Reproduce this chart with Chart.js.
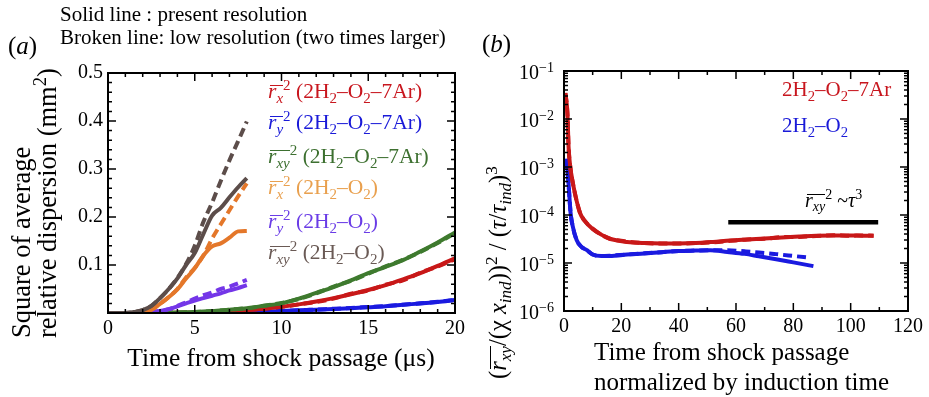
<!DOCTYPE html>
<html>
<head>
<meta charset="utf-8">
<script src="https://cdn.jsdelivr.net/npm/chart.js@4.4.1/dist/chart.umd.min.js"></script>
<style>
  html, body { margin: 0; padding: 0; background: #fff; }
  #fig { position: relative; width: 929px; height: 397px; overflow: hidden;
         font-family: "Liberation Serif", "Times New Roman", serif; color: #000; }
  #fig canvas { position: absolute; top: 0; }
  .abs { position: absolute; white-space: nowrap; }
  sub { font-size: 0.7em; vertical-align: -0.32em; line-height: 0; }
  sup { font-size: 0.7em; vertical-align: 0.55em; line-height: 0; }
  .ob { position: relative; display: inline-block; line-height: 1; }
  .ob::before { content: ""; position: absolute; left: 0.08em; right: 0; top: 0.18em;
                border-top: 1.5px solid currentColor; }
  .rot { transform: rotate(-90deg); transform-origin: 0 0; }
  .leg { font-size: 21.5px; line-height: 24px; left: 268px; }
</style>
</head>
<body>
<div id="fig">
  <canvas id="chartA" width="470" height="397" style="left:0"></canvas>
  <canvas id="chartB" width="459" height="397" style="left:470px"></canvas>

  <div class="abs" style="left:60px; top:3px; font-size:21px; line-height:22px;">Solid line : present resolution</div>
  <div class="abs" style="left:60px; top:26px; font-size:21px; line-height:22px;">Broken line: low resolution (two times larger)</div>
  <div class="abs" style="left:8px; top:33px; font-size:25px; line-height:26px;">(<i>a</i>)</div>
  <div class="abs" style="left:482px; top:31px; font-size:25px; line-height:26px;">(<i>b</i>)</div>

  <!-- panel (a) legend -->
  <div class="abs leg" style="top:79px; color:#c8161e;"><span class="ob"><i>r</i><sub><i>x</i></sub></span><sup>2</sup> (2H<sub>2</sub>–O<sub>2</sub>–7Ar)</div>
  <div class="abs leg" style="top:110px; color:#1a1ad8;"><span class="ob"><i>r</i><sub><i>y</i></sub></span><sup>2</sup> (2H<sub>2</sub>–O<sub>2</sub>–7Ar)</div>
  <div class="abs leg" style="top:144px; color:#3d7030;"><span class="ob"><i>r</i><sub><i>xy</i></sub></span><sup>2</sup> (2H<sub>2</sub>–O<sub>2</sub>–7Ar)</div>
  <div class="abs leg" style="top:175px; color:#e9a04e;"><span class="ob"><i>r</i><sub><i>x</i></sub></span><sup>2</sup> (2H<sub>2</sub>–O<sub>2</sub>)</div>
  <div class="abs leg" style="top:209px; color:#6a3ce6;"><span class="ob"><i>r</i><sub><i>y</i></sub></span><sup>2</sup> (2H<sub>2</sub>–O<sub>2</sub>)</div>
  <div class="abs leg" style="top:240px; color:#6a5a55;"><span class="ob"><i>r</i><sub><i>xy</i></sub></span><sup>2</sup> (2H<sub>2</sub>–O<sub>2</sub>)</div>

  <!-- panel (a) axis titles -->
  <div class="abs rot" style="left:8px; top:338px; font-size:26.5px; line-height:26px;">Square of average<br>relative dispersion (mm<sup>2</sup>)</div>
  <div class="abs" style="left:281px; top:344px; font-size:25.5px; line-height:28px; transform:translateX(-50%);">Time from shock passage (μs)</div>

  <!-- panel (b) -->
  <div class="abs" style="left:782px; top:77px; font-size:21px; line-height:24px; color:#c8161e;">2H<sub>2</sub>–O<sub>2</sub>–7Ar</div>
  <div class="abs" style="left:782px; top:113px; font-size:21px; line-height:24px; color:#1a1ad8;">2H<sub>2</sub>–O<sub>2</sub></div>
  <div class="abs" style="left:805px; top:188px; font-size:20px; line-height:24px;"><span class="ob"><i>r</i><sub><i>xy</i></sub></span><sup>2</sup> ~<i>τ</i><sup>3</sup></div>
  <div class="abs rot" style="left:484px; top:379px; font-size:24.5px; line-height:28px;">(<span class="ob"><i>r</i><sub><i>xy</i></sub></span>/(χ <i>x</i><sub><i>ind</i></sub>))<sup>2</sup> / (<i>τ</i>/<i>τ</i><sub><i>ind</i></sub>)<sup>3</sup></div>
  <div class="abs" style="left:594px; top:337px; font-size:25px; line-height:30px;">Time from shock passage<br>normalized by induction time</div>
</div>

<script>
// ---- panel (a): square of average relative dispersion (mm^2) vs time (µs) ----
// 2H2-O2-7Ar
const timeAr    = [0, 2, 4, 5, 6, 7, 8, 9, 10, 11, 12, 13, 14, 15, 16, 17, 18, 19, 20];
const rx2Ar     = [0, 0, 0.0005, 0.001, 0.002, 0.004, 0.006, 0.009, 0.013, 0.018, 0.024, 0.031, 0.039, 0.048, 0.058, 0.070, 0.083, 0.098, 0.114];
const rx2ArLow  = [0, 0, 0.0005, 0.001, 0.002, 0.004, 0.006, 0.009, 0.013, 0.018, 0.023, 0.030, 0.040, 0.047, 0.059, 0.068, 0.084, 0.097, 0.112];
const ry2Ar     = [0, 0, 0, 0.0003, 0.0007, 0.0012, 0.002, 0.003, 0.004, 0.0055, 0.007, 0.0085, 0.010, 0.012, 0.014, 0.017, 0.020, 0.023, 0.027];
const ry2ArLow  = [0, 0, 0, 0.0003, 0.0007, 0.0012, 0.002, 0.003, 0.0042, 0.0055, 0.0072, 0.0088, 0.0105, 0.0125, 0.0145, 0.0172, 0.0202, 0.0235, 0.0272];
const rxy2Ar    = [0, 0, 0.001, 0.002, 0.004, 0.007, 0.010, 0.015, 0.020, 0.030, 0.042, 0.054, 0.068, 0.083, 0.096, 0.110, 0.128, 0.147, 0.168];
const rxy2ArLow = [0, 0, 0.001, 0.002, 0.004, 0.007, 0.010, 0.015, 0.021, 0.029, 0.041, 0.055, 0.067, 0.082, 0.097, 0.111, 0.127, 0.146, 0.166];

// 2H2-O2
const timeH2    = [0, 1, 1.5, 2, 2.5, 3, 3.5, 4, 4.5, 5, 5.5, 6, 6.5, 7, 7.5, 8];
const rx2H2     = [0, 0, 0, 0.002, 0.007, 0.019, 0.033, 0.049, 0.072, 0.093, 0.120, 0.139, 0.145, 0.157, 0.170, 0.171];
const rx2H2Low  = [0, 0, 0, 0.002, 0.007, 0.019, 0.033, 0.050, 0.074, 0.094, 0.120, 0.155, 0.185, 0.214, 0.243, 0.270];
const ry2H2     = [0, 0, 0, 0.001, 0.002, 0.004, 0.008, 0.014, 0.020, 0.026, 0.031, 0.036, 0.041, 0.047, 0.052, 0.058];
const ry2H2Low  = [0, 0, 0, 0.001, 0.002, 0.004, 0.008, 0.015, 0.022, 0.030, 0.037, 0.043, 0.050, 0.055, 0.062, 0.069];
const rxy2H2    = [0, 0, 0.002, 0.006, 0.015, 0.031, 0.050, 0.072, 0.100, 0.125, 0.165, 0.203, 0.219, 0.241, 0.262, 0.281];
const rxy2H2Low = [0, 0, 0.002, 0.006, 0.015, 0.031, 0.050, 0.073, 0.102, 0.140, 0.190, 0.230, 0.275, 0.318, 0.358, 0.399];

// ---- panel (b): normalized dispersion vs normalized time ----
const tauAr     = [0.5, 1.2, 1.6, 2.2, 2.9, 4, 5.6, 7, 10, 13, 16, 22, 28, 34, 40, 46, 52, 58, 64, 70, 76, 82, 88, 94, 100, 104, 108];
const normAr    = [3.5e-2, 1.3e-2, 2.6e-3, 1.0e-3, 5.4e-4, 2.5e-4, 1.1e-4, 7.8e-5, 5.1e-5, 3.9e-5, 3.2e-5, 2.75e-5, 2.6e-5, 2.55e-5, 2.55e-5, 2.6e-5, 2.75e-5, 2.95e-5, 3.1e-5, 3.25e-5, 3.4e-5, 3.55e-5, 3.7e-5, 3.75e-5, 3.75e-5, 3.7e-5, 3.7e-5];
const normArLow = [3.4e-2, 1.3e-2, 2.6e-3, 1.0e-3, 5.3e-4, 2.5e-4, 1.1e-4, 7.9e-5, 5.2e-5, 3.9e-5, 3.2e-5, 2.8e-5, 2.6e-5, 2.55e-5, 2.55e-5, 2.6e-5, 2.7e-5, 2.9e-5, 3.1e-5, 3.2e-5, 3.45e-5, 3.5e-5, 3.65e-5, 3.8e-5, 3.7e-5, 3.75e-5, 3.7e-5];
const tauH2     = [0.9, 1.5, 2.3, 3, 4.4, 6, 8, 10, 13, 16, 22, 28, 34, 40, 46, 51, 57, 63, 68, 74, 80, 87];
const normH2    = [1.5e-3, 5.4e-4, 1.1e-4, 6.0e-5, 3.0e-5, 2.2e-5, 1.85e-5, 1.5e-5, 1.4e-5, 1.4e-5, 1.5e-5, 1.58e-5, 1.68e-5, 1.78e-5, 1.82e-5, 1.85e-5, 1.7e-5, 1.55e-5, 1.38e-5, 1.2e-5, 1.03e-5, 8.6e-6];
const tauH2Low  = [0.9, 1.5, 2.3, 3, 4.4, 6, 8, 10, 13, 16, 22, 28, 34, 40, 46, 51, 57, 63, 68, 74, 80, 86];
const normH2Low = [1.4e-3, 5.2e-4, 1.1e-4, 6.0e-5, 3.0e-5, 2.2e-5, 1.85e-5, 1.5e-5, 1.4e-5, 1.42e-5, 1.5e-5, 1.6e-5, 1.68e-5, 1.78e-5, 1.82e-5, 1.85e-5, 1.85e-5, 1.75e-5, 1.66e-5, 1.53e-5, 1.4e-5, 1.28e-5];
const slopeTau  = [57.3, 109.6];
const slopeVal  = [7.1e-5, 7.1e-5];

// tick labels
const xTicksA = [0, 5, 10, 15, 20];
const yTicksA = [0.1, 0.2, 0.3, 0.4, 0.5];
const xTicksB = [0, 20, 40, 60, 80, 100, 120];
const yExpB   = [-1, -2, -3, -4, -5, -6];

const serif = '"Liberation Serif", "Times New Roman", serif';
const red = '#c81818', blue = '#1a1ae0', green = '#3e7a2e', orange = '#e4772a', purple = '#7436e8', brown = '#5c4d4a';

const pts = (xs, ys) => xs.map((x, i) => ({ x: x, y: ys[i] }));

function line(xs, ys, color, dashed) {
    return {
        data: pts(xs, ys),
        borderColor: color,
        borderWidth: 4,
        borderDash: dashed ? [9, 5] : [],
        pointRadius: 0,
        fill: false,
        cubicInterpolationMode: 'monotone'
    };
}

// inward ticks on all four sides + frame
const boxTicks = {
    id: 'boxTicks',
    afterDatasetsDraw(chart, args, opts) {
        const { ctx, chartArea: a } = chart;
        const x = chart.scales.x, y = chart.scales.y;
        ctx.save();
        ctx.strokeStyle = '#000';
        ctx.lineWidth = 1.5;
        ctx.beginPath();
        const xMarks = (vals, len) => vals.forEach(v => {
            const px = x.getPixelForValue(v);
            ctx.moveTo(px, a.bottom); ctx.lineTo(px, a.bottom - len);
            ctx.moveTo(px, a.top); ctx.lineTo(px, a.top + len);
        });
        const yMarks = (vals, len) => vals.forEach(v => {
            const py = y.getPixelForValue(v);
            ctx.moveTo(a.left, py); ctx.lineTo(a.left + len, py);
            ctx.moveTo(a.right, py); ctx.lineTo(a.right - len, py);
        });
        xMarks(opts.xMajor, 8);
        xMarks(opts.xMinor, 4);
        yMarks(opts.yMajor, 8);
        yMarks(opts.yMinor, 4);
        ctx.stroke();
        ctx.lineWidth = 2;
        ctx.strokeRect(a.left, a.top, a.right - a.left, a.bottom - a.top);
        ctx.restore();
    }
};

// "10" with a raised exponent for the log axis
const logLabels = {
    id: 'logLabels',
    afterDraw(chart) {
        const { ctx, chartArea: a } = chart;
        const y = chart.scales.y;
        const right = a.left - 10;
        ctx.save();
        ctx.fillStyle = '#000';
        ctx.textBaseline = 'middle';
        yExpB.forEach(e => {
            const py = y.getPixelForValue(Math.pow(10, e));
            const sup = '\u2212' + Math.abs(e);
            ctx.font = '14px ' + serif;
            const w = ctx.measureText(sup).width;
            ctx.textAlign = 'left';
            ctx.fillText(sup, right - w, py - 3);
            ctx.font = '20px ' + serif;
            ctx.textAlign = 'right';
            ctx.fillText('10', right - w, py + 3);
        });
        ctx.restore();
    }
};

const tickFont = { family: serif, size: 20 };

// minor tick positions
const xMinorA = [], yMinorA = [], xMinorB = [10, 30, 50, 70, 90, 110], yMinorB = [];
for (let i = 0; i <= 20; i++) if (i % 5) xMinorA.push(i);
for (let i = 1; i < 25; i++) if (i % 5) yMinorA.push(i * 0.02);
for (let e = -6; e < -1; e++) for (let k = 2; k <= 9; k++) yMinorB.push(k * Math.pow(10, e));

new Chart(document.getElementById('chartA'), {
    type: 'line',
    data: {
        datasets: [
            line(timeH2, rxy2H2, brown, false),
            line(timeH2, rxy2H2Low, brown, true),
            line(timeH2, rx2H2, orange, false),
            line(timeH2, rx2H2Low, orange, true),
            line(timeH2, ry2H2, purple, false),
            line(timeH2, ry2H2Low, purple, true),
            line(timeAr, rxy2Ar, green, false),
            line(timeAr, rxy2ArLow, green, true),
            line(timeAr, rx2Ar, red, false),
            line(timeAr, rx2ArLow, red, true),
            line(timeAr, ry2Ar, blue, false),
            line(timeAr, ry2ArLow, blue, true)
        ]
    },
    options: {
        responsive: false,
        devicePixelRatio: 1,
        animation: false,
        layout: { padding: { top: 73, right: 15, left: 0, bottom: 0 } },
        plugins: {
            legend: { display: false },
            tooltip: { enabled: false },
            boxTicks: { xMajor: xTicksA, xMinor: xMinorA, yMajor: [0].concat(yTicksA), yMinor: yMinorA }
        },
        scales: {
            x: {
                type: 'linear', min: 0, max: 20,
                afterBuildTicks: s => { s.ticks = xTicksA.map(v => ({ value: v })); },
                afterFit: s => { s.height = 84; },
                ticks: { font: tickFont, color: '#000', padding: 4, maxRotation: 0, autoSkip: false },
                grid: { display: false, drawTicks: false },
                border: { display: false }
            },
            y: {
                type: 'linear', min: 0, max: 0.5,
                afterBuildTicks: s => { s.ticks = yTicksA.map(v => ({ value: v })); },
                afterFit: s => { s.width = 108; },
                ticks: { font: tickFont, color: '#000', padding: 5, callback: v => v.toFixed(1) },
                grid: { display: false, drawTicks: false },
                border: { display: false }
            }
        }
    },
    plugins: [boxTicks]
});

new Chart(document.getElementById('chartB'), {
    type: 'line',
    data: {
        datasets: [
            Object.assign(line(slopeTau, slopeVal, '#000', false), { borderWidth: 4.5, cubicInterpolationMode: 'default' }),
            line(tauAr, normAr, red, false),
            line(tauAr, normArLow, red, true),
            line(tauH2, normH2, blue, false),
            line(tauH2Low, normH2Low, blue, true)
        ]
    },
    options: {
        responsive: false,
        devicePixelRatio: 1,
        animation: false,
        layout: { padding: { top: 71, right: 21, left: 0, bottom: 0 } },
        plugins: {
            legend: { display: false },
            tooltip: { enabled: false },
            boxTicks: { xMajor: xTicksB, xMinor: xMinorB, yMajor: yExpB.map(e => Math.pow(10, e)), yMinor: yMinorB }
        },
        scales: {
            x: {
                type: 'linear', min: 0, max: 120,
                afterBuildTicks: s => { s.ticks = xTicksB.map(v => ({ value: v })); },
                afterFit: s => { s.height = 86; },
                ticks: { font: tickFont, color: '#000', padding: 4, maxRotation: 0, autoSkip: false },
                grid: { display: false, drawTicks: false },
                border: { display: false }
            },
            y: {
                type: 'logarithmic', min: 1e-6, max: 1e-1,
                afterFit: s => { s.width = 94; },
                ticks: { display: false },
                grid: { display: false, drawTicks: false },
                border: { display: false }
            }
        }
    },
    plugins: [boxTicks, logLabels]
});
</script>
</body>
</html>
